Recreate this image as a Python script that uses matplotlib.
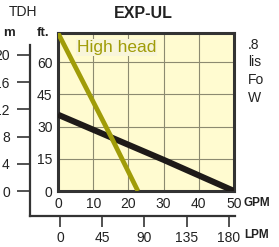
import matplotlib
matplotlib.use('Agg')
import matplotlib.pyplot as plt

plt.rcParams['font.family'] = ['Liberation Sans', 'DejaVu Sans']

# pump curves, GPM vs ft of head
std_gpm = [0, 20, 30, 50]
std_ft = [35.5, 21.5, 14.5, 0]
high_gpm = [0, 15, 22.7]
high_ft = [73.5, 25.5, 0]

gpm_ticks = [0, 10, 20, 30, 40, 50]
ft_ticks = [0, 15, 30, 45, 60]
m_ticks = [0, 4, 8, 12, 16, 20]
lpm_ticks = [0, 45, 90, 135, 180]

side_text = ['.8', 'lis', 'Fo', 'W']

W, H = 279, 247
fig = plt.figure(figsize=(W / 100, H / 100), dpi=100)

def box(l, t, r, b):
    return [l / W, (H - b) / H, (r - l) / W, (b - t) / H]

# metric axis (m + LPM), drawn behind the main plot
axm = fig.add_axes(box(30, 45, 235, 216))
axm.set_facecolor('none')
axm.set_ylim(-3.65, 21.46)
axm.set_xlim(-31.95, 186.4)
for s in ['top', 'right']:
    axm.spines[s].set_visible(False)
for s in ['left', 'bottom']:
    axm.spines[s].set_linewidth(1.6)
    axm.spines[s].set_color('#333333')
axm.set_yticks(m_ticks)
axm.set_yticklabels([str(v) for v in m_ticks])
axm.set_xticks(lpm_ticks)
axm.set_xticklabels([str(v) for v in lpm_ticks])
axm.tick_params(axis='y', direction='out', length=9.5, width=1.2, pad=5,
                labelsize=10, colors='#333333', labelcolor='#222222')
axm.tick_params(axis='x', direction='out', length=8, width=1.2, pad=3,
                labelsize=10, colors='#333333', labelcolor='#222222')

ax = fig.add_axes(box(58, 33, 234, 191))
ax.set_facecolor('#fffbd0')
ax.set_xlim(0, 50)
ax.set_ylim(0, 73.5)
ax.set_xticks(gpm_ticks)
ax.set_yticks(ft_ticks)
ax.tick_params(length=0, labelsize=10, labelcolor='#222222', pad=4)
ax.grid(True, color='#8c8a70', linewidth=0.8)
for s in ax.spines.values():
    s.set_linewidth(2.2)
    s.set_color('#333333')

ax.plot(std_gpm, std_ft, color='#1e1a18', linewidth=4.4, solid_capstyle='butt', zorder=3)
ax.plot(high_gpm, high_ft, color='#a09c08', linewidth=3.4, solid_capstyle='butt', zorder=4)

ax.text(5.3, 66.8, 'High head', color='#a09c08', fontsize=12.5, va='center', ha='left',
        bbox=dict(facecolor='#f8f5da', edgecolor='none', pad=0.8), zorder=5)

fig.text(143 / W, 1 - 13 / H, 'EXP-UL', fontsize=11.5, fontweight='bold',
         ha='center', va='center', color='#222222')
fig.text(9 / W, 1 - 12 / H, 'TDH', fontsize=10, ha='left', va='center', color='#222222')
fig.text(3 / W, 1 - 33 / H, 'm', fontsize=9.5, fontweight='bold', ha='left', va='center', color='#222222')
fig.text(37 / W, 1 - 33 / H, 'ft.', fontsize=9.5, fontweight='bold', ha='left', va='center', color='#222222')
fig.text(244 / W, 1 - 203 / H, 'GPM', fontsize=8.5, fontweight='bold', ha='left', va='center', color='#222222')
fig.text(244 / W, 1 - 235 / H, 'LPM', fontsize=8.5, fontweight='bold', ha='left', va='center', color='#222222')

for i, t in enumerate(side_text):
    fig.text(248 / W, 1 - (45 + 17.5 * i) / H, t, fontsize=10, ha='left', va='center', color='#222222')

fig.savefig('out.png', dpi=100)
